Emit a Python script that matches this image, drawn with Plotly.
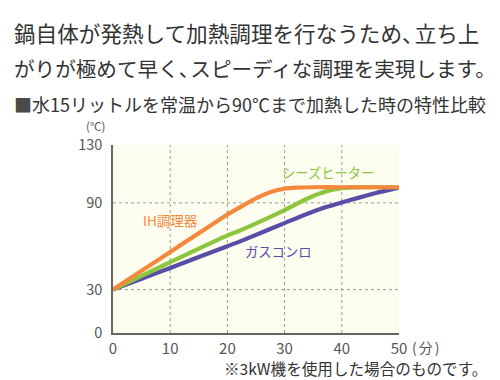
import plotly.graph_objects as go

# ---- data ----
ih_x = [0, 5, 10, 15, 20, 22, 24, 26, 28, 30, 32, 35, 40, 45, 50]
ih_y = [30, 43, 56, 69, 82, 86.5, 91, 95, 98, 99.8, 100.5, 100.8, 100.8, 100.8, 100.8]

sh_x = [0, 5, 10, 15, 20, 22, 26, 30, 32, 34, 36, 38, 40, 42, 45, 50]
sh_y = [30, 39.5, 49, 58.3, 67.5, 70.5, 77.5, 85, 89, 93, 96.3, 98.8, 100.2, 100.7, 100.8, 100.8]

gas_x = [0, 5, 10, 15, 20, 22, 26, 30, 34, 37, 40, 43, 46, 50]
gas_y = [30, 37.5, 45, 52.5, 60, 63, 69.5, 76, 82.5, 86.8, 90.3, 93.6, 96.8, 100.5]

x_ticks = [0, 10, 20, 30, 40, 50]
y_ticks = [0, 30, 90, 130]
x_grid = [10, 20, 30, 40]
y_grid = [30, 90]

ORANGE = "#F4883C"
GREEN = "#8CC63F"
PURPLE = "#5A4DA8"
FONT = "Noto Sans CJK JP"

fig = go.Figure()
for xs, ys, c in [(gas_x, gas_y, PURPLE), (sh_x, sh_y, GREEN), (ih_x, ih_y, ORANGE)]:
    fig.add_trace(go.Scatter(x=xs, y=ys, mode="lines",
                             line=dict(color=c, width=4.2, shape="spline", smoothing=0.6),
                             hoverinfo="skip", showlegend=False))

shapes = []
for gx in x_grid:
    shapes.append(dict(type="line", xref="x", yref="y", x0=gx, x1=gx, y0=0, y1=130,
                       line=dict(color="#9a9a9a", width=1, dash="dot"), layer="below"))
for gy in y_grid:
    shapes.append(dict(type="line", xref="x", yref="y", x0=0, x1=50, y0=gy, y1=gy,
                       line=dict(color="#9a9a9a", width=1, dash="dot"), layer="below"))

L, R, T, B = 113, 101, 145, 47
PW, PH = 500 - L - R, 380 - T - B

def px(x):
    return (x - L) / PW

def py(y):
    return (380 - B - y) / PH

NARROW = "<span style='letter-spacing:-9px'>{}</span>"

annotations = [
    dict(text="鍋自体が発熱して加熱調理を行なうため" + NARROW.format("、") + "立ち上",
         x=px(13), y=py(32), font=dict(size=21.6, color="#333333", family=FONT)),
    dict(text="がりが極めて早く" + NARROW.format("、") + "スピーディな調理を実現します。",
         x=px(13), y=py(68), font=dict(size=20.6, color="#333333", family=FONT)),
    dict(text="<span style='color:#4a4a4a'>■</span>水15リットルを常温から90℃まで加熱した時の特性比較",
         x=px(13), y=py(104), font=dict(size=18, color="#333333", family=FONT)),
]
for a in annotations:
    a.update(xref="paper", yref="paper", xanchor="left", yanchor="middle", showarrow=False,
             borderpad=0)

annotations += [
    dict(text="(℃)", xref="paper", yref="paper", x=px(95), y=py(126), xanchor="center",
         yanchor="middle", showarrow=False, borderpad=0,
         font=dict(size=11.5, color="#555555", family=FONT)),
    dict(text="<span style='letter-spacing:2px'>(分)</span>", xref="paper", yref="paper",
         x=px(410), y=py(347), xanchor="left",
         yanchor="middle", showarrow=False, font=dict(size=14, color="#555555", family=FONT)),
    dict(text="※3kW機を使用した場合のものです。", xref="paper", yref="paper", x=px(488), y=py(368),
         xanchor="right", yanchor="middle", showarrow=False, borderpad=0,
         font=dict(size=15.6, color="#333333", family=FONT)),
    dict(text="IH調理器", x=10.0, y=78.1, xref="x", yref="y", showarrow=False,
         font=dict(size=13.5, color=ORANGE, family=FONT)),
    dict(text="シーズヒーター", x=37.6, y=111.3, xref="x", yref="y", showarrow=False,
         font=dict(size=13.3, color=GREEN, family=FONT)),
    dict(text="ガスコンロ", x=28.9, y=56.2, xref="x", yref="y", showarrow=False,
         font=dict(size=13.3, color=PURPLE, family=FONT)),
]

fig.update_layout(
    width=500, height=380,
    margin=dict(l=L, r=R, t=T, b=B),
    paper_bgcolor="white", plot_bgcolor="#FDFDEF",
    shapes=shapes, annotations=annotations,
    font=dict(family=FONT, color="#555555"),
    xaxis=dict(range=[0, 50], tickvals=x_ticks, ticktext=[str(v) for v in x_ticks],
               showgrid=False, zeroline=False, showline=True, linecolor="#666666",
               linewidth=1.5, ticks="", tickfont=dict(size=15, color="#555555", family=FONT),
               ticklabelstandoff=1, fixedrange=True),
    yaxis=dict(range=[0, 130], tickvals=y_ticks, ticktext=[str(v) for v in y_ticks],
               showgrid=False, zeroline=False, showline=True, linecolor="#666666",
               linewidth=1.5, ticks="", tickfont=dict(size=14.5, color="#555555", family=FONT),
               ticklabelstandoff=6, fixedrange=True),
)

fig.write_html("out.html", config={"displayModeBar": False},
               post_script="document.body.style.margin='0';document.body.style.overflow='hidden';")
